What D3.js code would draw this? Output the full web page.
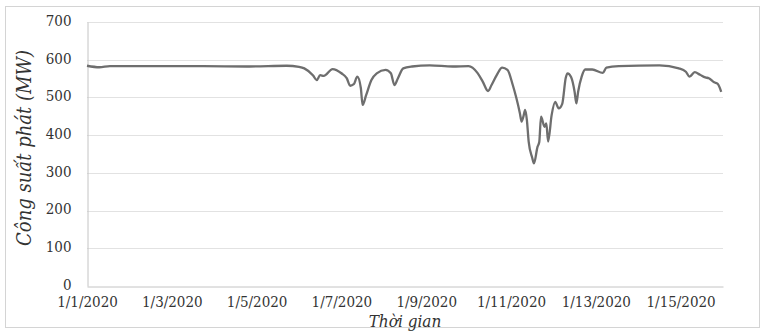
<!DOCTYPE html>
<html>
<head>
<meta charset="utf-8">
<script src="https://cdn.jsdelivr.net/npm/d3@7"></script>
<style>
  html, body { margin: 0; padding: 0; background: #fff; }
  svg { display: block; }
</style>
</head>
<body>
<svg id="chart" width="765" height="331"></svg>
<script>
// Hours elapsed since 1/1/2020 00:00
const hours = [0, 7, 13, 36, 64, 92, 113, 120, 123, 128, 130, 132, 134, 139, 144, 147, 149, 151, 153, 155, 156, 158, 161, 164, 169, 172, 174, 176, 179, 184, 194, 207, 216, 221, 224, 227, 229, 232, 235, 238, 241, 243, 245, 246, 247, 248, 249, 250, 252, 253, 255, 256, 257, 259, 260, 261, 263, 265, 267, 269, 271, 272, 274, 276, 277, 278, 280, 282, 286, 292, 294, 301, 324, 335, 339, 341, 344, 347, 350, 352, 355, 357, 359];
// Generated power (MW)
const power = [584, 580, 583, 583, 583, 582, 584, 581, 577, 558, 546, 559, 557, 575, 564, 551, 531, 535, 555, 525, 480, 506, 546, 564, 573, 564, 533, 551, 577, 582, 585, 582, 583, 565, 542, 517, 533, 560, 579, 573, 533, 499, 459, 436, 449, 467, 440, 383, 340, 325, 369, 382, 449, 422, 431, 383, 453, 488, 471, 483, 552, 564, 554, 515, 484, 515, 555, 574, 574, 565, 579, 583, 585, 577, 568, 555, 567, 560, 553, 551, 540, 536, 515];

const xTickHours = [0, 48, 96, 144, 192, 240, 288, 336];
const xTickLabels = ["1/1/2020", "1/3/2020", "1/5/2020", "1/7/2020", "1/9/2020", "1/11/2020", "1/13/2020", "1/15/2020"];
const yTicks = [0, 100, 200, 300, 400, 500, 600, 700];

const svg = d3.select("#chart");
const plot = { left: 87, right: 723, top: 22, bottom: 286 };
const serifFont = '"DejaVu Serif Condensed", "DejaVu Serif", serif';

// Outer frame
svg.append("rect")
  .attr("x", 5.5).attr("y", 6.5).attr("width", 754).attr("height", 321)
  .attr("fill", "#fff").attr("stroke", "#d4d4d4").attr("stroke-width", 1);

const x = d3.scaleLinear().domain([0, 360]).range([plot.left, plot.right]);
const y = d3.scaleLinear().domain([0, 700]).range([plot.bottom, plot.top]);

// Horizontal gridlines
svg.append("g")
  .selectAll("line")
  .data(yTicks.filter(d => d > 0))
  .join("line")
  .attr("x1", plot.left).attr("x2", plot.right)
  .attr("y1", d => Math.round(y(d)) + 0.5).attr("y2", d => Math.round(y(d)) + 0.5)
  .attr("stroke", "#e2e2e2").attr("stroke-width", 1);

// Y axis
const yAxis = svg.append("g")
  .attr("transform", `translate(${plot.left + 0.5},0)`)
  .call(d3.axisLeft(y).tickValues(yTicks).tickSize(0).tickPadding(16));
yAxis.attr("font-family", serifFont).attr("font-size", 15);
yAxis.select(".domain").attr("stroke", "#c4c4c4");
yAxis.selectAll("text").attr("fill", "#333").attr("dy", "0.22em");

// X axis
const xAxis = svg.append("g")
  .attr("transform", `translate(0,${plot.bottom + 0.5})`)
  .call(d3.axisBottom(x).tickValues(xTickHours).tickSize(0).tickPadding(10)
    .tickFormat((d, i) => xTickLabels[i]));
xAxis.attr("font-family", serifFont).attr("font-size", 15);
xAxis.select(".domain").attr("stroke", "#c4c4c4");
xAxis.selectAll("text").attr("fill", "#333");

// Power curve
const line = d3.line()
  .x((d, i) => x(hours[i]))
  .y(d => y(d))
  .curve(d3.curveMonotoneX);

svg.append("path")
  .datum(power)
  .attr("d", line)
  .attr("fill", "none")
  .attr("stroke", "#6e6e6e")
  .attr("stroke-width", 2.3)
  .attr("stroke-linejoin", "round");

// Axis titles
svg.append("text")
  .attr("transform", `translate(31,148) rotate(-90)`)
  .attr("text-anchor", "middle")
  .attr("font-family", serifFont)
  .attr("font-style", "italic")
  .attr("font-size", 20)
  .attr("fill", "#333")
  .text("Công suất phát (MW)");

svg.append("text")
  .attr("x", (plot.left + plot.right) / 2)
  .attr("y", 327)
  .attr("text-anchor", "middle")
  .attr("font-family", serifFont)
  .attr("font-style", "italic")
  .attr("font-size", 17)
  .attr("fill", "#333")
  .text("Thời gian");
</script>
</body>
</html>
